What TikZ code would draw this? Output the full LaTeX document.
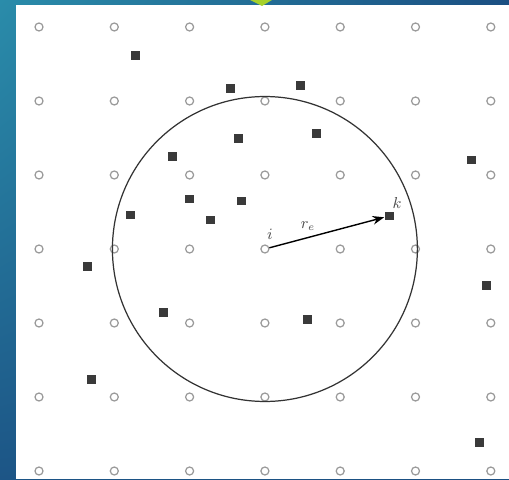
\documentclass[tikz,border=0pt]{standalone}
\usepackage{tikz}
\usetikzlibrary{arrows.meta,positioning,calc,shadings}
\definecolor{cTEAL}{HTML}{2A8CAA}
\definecolor{cNAVY}{HTML}{1B4F82}
\definecolor{cLIME}{HTML}{A6D12A}
\definecolor{cDOT}{HTML}{9A9A9A}
\definecolor{cSQ}{HTML}{3A3A3A}

\tikzset{
  site/.style={circle, draw=cDOT, line width=0.7pt, inner sep=0pt, minimum size=0.16cm},
  atom/.style={rectangle, fill=cSQ, inner sep=0pt, minimum size=0.18cm},
  lbl/.style={text=black!70, font=\small}
}

\begin{document}
\begin{tikzpicture}[x=0.02cm, y=-0.02cm, >=Stealth]
\useasboundingbox (0,0) rectangle (509,479);
% slide background
\shade[upper left=cTEAL, upper right=cNAVY, lower left=cNAVY!90!cTEAL, lower right=cNAVY] (0,0) rectangle (509,479);
\fill[white] (16,5) rectangle (509,479);
\fill[cLIME] (250,0) -- (272,0) -- (262,6) -- cycle;
% lattice sites
\foreach \r in {1,...,7} {
  \foreach \c in {1,...,7} {
    \node[site] (g-\r-\c) at ({39+75.3*(\c-1)},{27+74*(\r-1)}) {};
  }
}
% interstitial atoms
\foreach \n/\x/\y in {1/135/56, 2/230/89, 3/300/86, 4/238/139, 5/316/134, 6/172/157,
  7/471/160, 8/189/199, 9/241/201, 10/130/215, 11/210/220, 12/389/216, 13/87/266,
  14/486/285, 15/163/312, 16/307/319, 17/91/379, 18/479/442} {
  \node[atom] (s\n) at (\x,\y) {};
}
\draw[line width=0.7pt, black!80] (g-4-4.center) circle[radius=3.05cm];
\draw[->, line width=0.8pt] (g-4-4) -- (s12);
\node[lbl] (i) at (270,234) {$i$};
\node[lbl] (re) at (308,226) {$r_e$};
\node[lbl] (k) at (397,203) {$k$};
\end{tikzpicture}
\end{document}
